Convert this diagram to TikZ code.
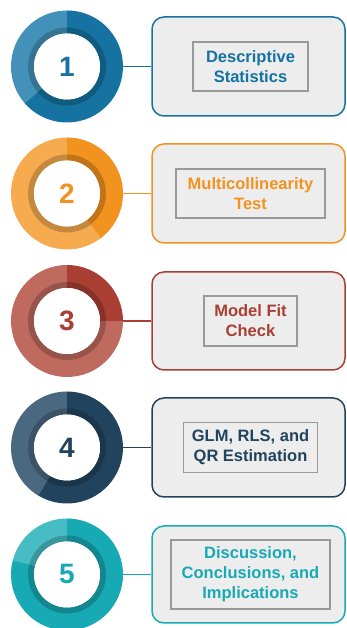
\documentclass[tikz,border=0pt]{standalone}
\usepackage{fontspec}
\setmainfont{Liberation Sans}
\definecolor{d1}{HTML}{1572A1}
\definecolor{l1}{HTML}{4391B8}
\definecolor{d2}{HTML}{F2921F}
\definecolor{l2}{HTML}{F5AB4E}
\definecolor{d3}{HTML}{A83F32}
\definecolor{l3}{HTML}{BE6A5E}
\definecolor{d4}{HTML}{22435D}
\definecolor{l4}{HTML}{4B6881}
\definecolor{d5}{HTML}{17A9B4}
\definecolor{l5}{HTML}{47BCC4}
\definecolor{boxfill}{HTML}{EDEDED}
\definecolor{innergray}{HTML}{999999}
\tikzset{
  numnode/.style={circle, minimum size=112pt, inner sep=0pt, font=\bfseries\fontsize{28}{30}\selectfont},
  outerbox/.style={draw, line width=1.5pt, fill=boxfill, rounded corners=12pt, minimum width=193pt, inner sep=0pt},
  innerbox/.style={draw=innergray, line width=1.5pt, inner sep=0pt, align=center, font=\bfseries\fontsize{16.5}{20}\selectfont},
  link/.style={line width=1.5pt}
}
\newcommand{\rowitem}[8]{%
  \coordinate (o#1) at (67,#2);
  \fill[l#1] (o#1) ++(#4:56) arc[start angle=#4, end angle=#5, radius=56] -- ++(#5:-23) arc[start angle=#5, end angle=#4, radius=33] -- cycle;
  \fill[d#1] (o#1) ++(#5:56) arc[start angle=#5, end angle=#4+360, radius=56] -- ++(#4:-23) arc[start angle=#4+360, end angle=#5, radius=33] -- cycle;
  \fill[black, opacity=0.2, even odd rule] (o#1) circle[radius=39] (o#1) circle[radius=33];
  \fill[white] (o#1) circle[radius=33];
  \node[numnode, text=d#1] (c#1) at (o#1) {#1};
  \node[outerbox, draw=d#1, minimum height=#8] (b#1) at (248.5,#2) {};
  \node[innerbox, text=d#1, minimum width=#6, minimum height=#7] (t#1) at (250.5,#2) {#3};
  \draw[link, d#1] (c#1) -- (b#1.west);
}
\begin{document}
\begin{tikzpicture}[x=1pt,y=1pt]
\useasboundingbox (0,0) rectangle (346,628);
\rowitem{1}{561.5}{Descriptive\\Statistics}{90}{221}{115pt}{49pt}{99pt}
\rowitem{2}{434.5}{Multicollinearity\\Test}{90}{307}{149pt}{49pt}{99pt}
\rowitem{3}{307}{Model Fit\\Check}{90}{360}{93pt}{50pt}{98pt}
\rowitem{4}{180.5}{GLM, RLS, and\\QR Estimation}{90}{239}{134pt}{50pt}{99pt}
\rowitem{5}{53.5}{Discussion,\\Conclusions, and\\Implications}{90}{165}{159pt}{69pt}{97pt}
\end{tikzpicture}
\end{document}
